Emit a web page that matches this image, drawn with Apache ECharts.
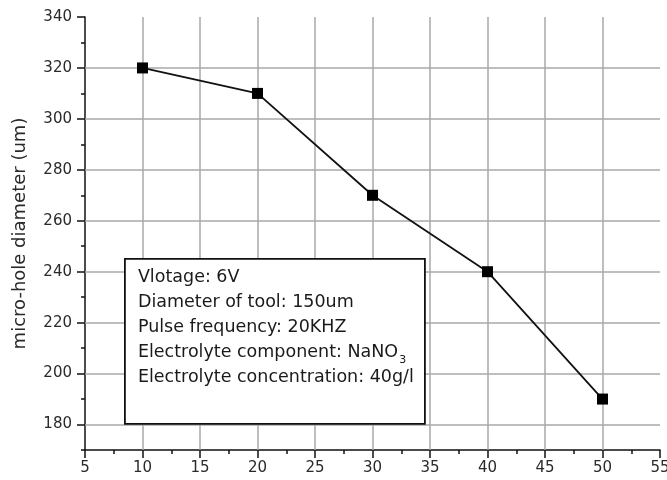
<!DOCTYPE html>
<html>
<head>
<meta charset="utf-8">
<title>Micro-hole diameter</title>
<script src="https://cdn.jsdelivr.net/npm/echarts@6/dist/echarts.min.js"></script>
<style>
  html, body { margin: 0; padding: 0; background: #fff; }
  #chart { width: 667px; height: 480px; }
</style>
</head>
<body>
<div id="chart"></div>
<script>
// Measured points: x value and micro-hole diameter (um)
const xValues = [10, 20, 30, 40, 50];
const diameters = [320, 310, 270, 240, 190];

// Labelled y ticks and grid line positions
const yMajorTicks = [180, 200, 220, 240, 260, 280, 300, 320, 340];
const yGridValues = [180, 200, 220, 240, 260, 280, 300, 320];
const xGridValues = [10, 15, 20, 25, 30, 35, 40, 45, 50];

// Process conditions shown in the inset box
const infoLines = [
  'Vlotage: 6V',
  'Diameter of tool: 150um',
  'Pulse frequency: 20KHZ',
  '{t|Electrolyte component: NaNO}{s|3}',
  'Electrolyte concentration: 40g/l'
];

const FONT = 'DejaVu Sans';
const TEXT = '#2a2a2a';
const GRID = '#a8a8a8';

const chart = echarts.init(document.getElementById('chart'), null, { renderer: 'canvas' });

const yBase = {
  type: 'value',
  min: 170,
  max: 340,
  interval: 10,
  position: 'left',
  splitLine: { show: false }
};

chart.setOption({
  animation: false,
  backgroundColor: '#fff',
  grid: { left: 85, right: 7, top: 17, bottom: 30, containLabel: false, outerBoundsMode: 'none' },
  xAxis: {
    type: 'value',
    min: 5,
    max: 55,
    interval: 5,
    axisLine: { show: true, onZero: false, lineStyle: { color: '#111', width: 1.5 } },
    axisTick: { show: true, inside: false, length: 8, lineStyle: { color: '#111', width: 1.5 } },
    minorTick: { show: true, splitNumber: 2, length: 4, lineStyle: { color: '#111', width: 1.5 } },
    splitLine: { show: false },
    axisLabel: { fontFamily: FONT, fontSize: 15, color: TEXT, margin: 11, hideOverlap: false }
  },
  yAxis: [
    Object.assign({}, yBase, {
      name: 'micro-hole diameter (um)',
      nameLocation: 'middle',
      nameGap: 56,
      nameTextStyle: { fontFamily: FONT, fontSize: 18, color: TEXT },
      axisLine: { show: true, onZero: false, lineStyle: { color: '#111', width: 1.5 } },
      axisTick: { show: true, inside: false, length: 4, lineStyle: { color: '#111', width: 1.5 } },
      axisLabel: {
        fontFamily: FONT, fontSize: 15, color: TEXT, margin: 13,
        formatter: v => (v % 20 === 0 ? String(v) : '')
      }
    }),
    Object.assign({}, yBase, {
      axisLine: { show: false },
      axisTick: {
        show: true, inside: false, length: 8, customValues: yMajorTicks,
        lineStyle: { color: '#111', width: 1.5 }
      },
      axisLabel: { show: false }
    })
  ],
  series: [{
    type: 'line',
    yAxisIndex: 0,
    data: xValues.map((x, i) => [x, diameters[i]]),
    symbol: 'rect',
    symbolSize: 11,
    itemStyle: { color: '#000' },
    lineStyle: { color: '#111', width: 1.8 },
    z: 5,
    markLine: {
      silent: true,
      symbol: 'none',
      label: { show: false },
      lineStyle: { color: GRID, width: 1.5, type: 'solid' },
      z: 1,
      data: xGridValues.map(v => ({ xAxis: v }))
        .concat(yGridValues.map(v => ({ yAxis: v })))
    }
  }],
  graphic: [{
    type: 'group',
    left: 124,
    top: 258,
    z: 100,
    children: [
      {
        type: 'rect',
        shape: { x: 0, y: 0, width: 300, height: 165 },
        style: { fill: '#fff', stroke: '#111', lineWidth: 1.8 },
        z: 100
      }
    ].concat(infoLines.map((line, i) => ({
      type: 'text',
      x: 13,
      y: 19 + i * 25,
      z: 101,
      style: {
        text: line,
        fontFamily: FONT,
        fontSize: 17.5,
        fill: '#1a1a1a',
        verticalAlign: 'middle',
        rich: {
          t: { fontFamily: FONT, fontSize: 17.5, fill: '#1a1a1a' },
          s: { fontFamily: FONT, fontSize: 11, fill: '#1a1a1a', padding: [14, 0, 0, 1] }
        }
      }
    })))
  }]
});
</script>
</body>
</html>
